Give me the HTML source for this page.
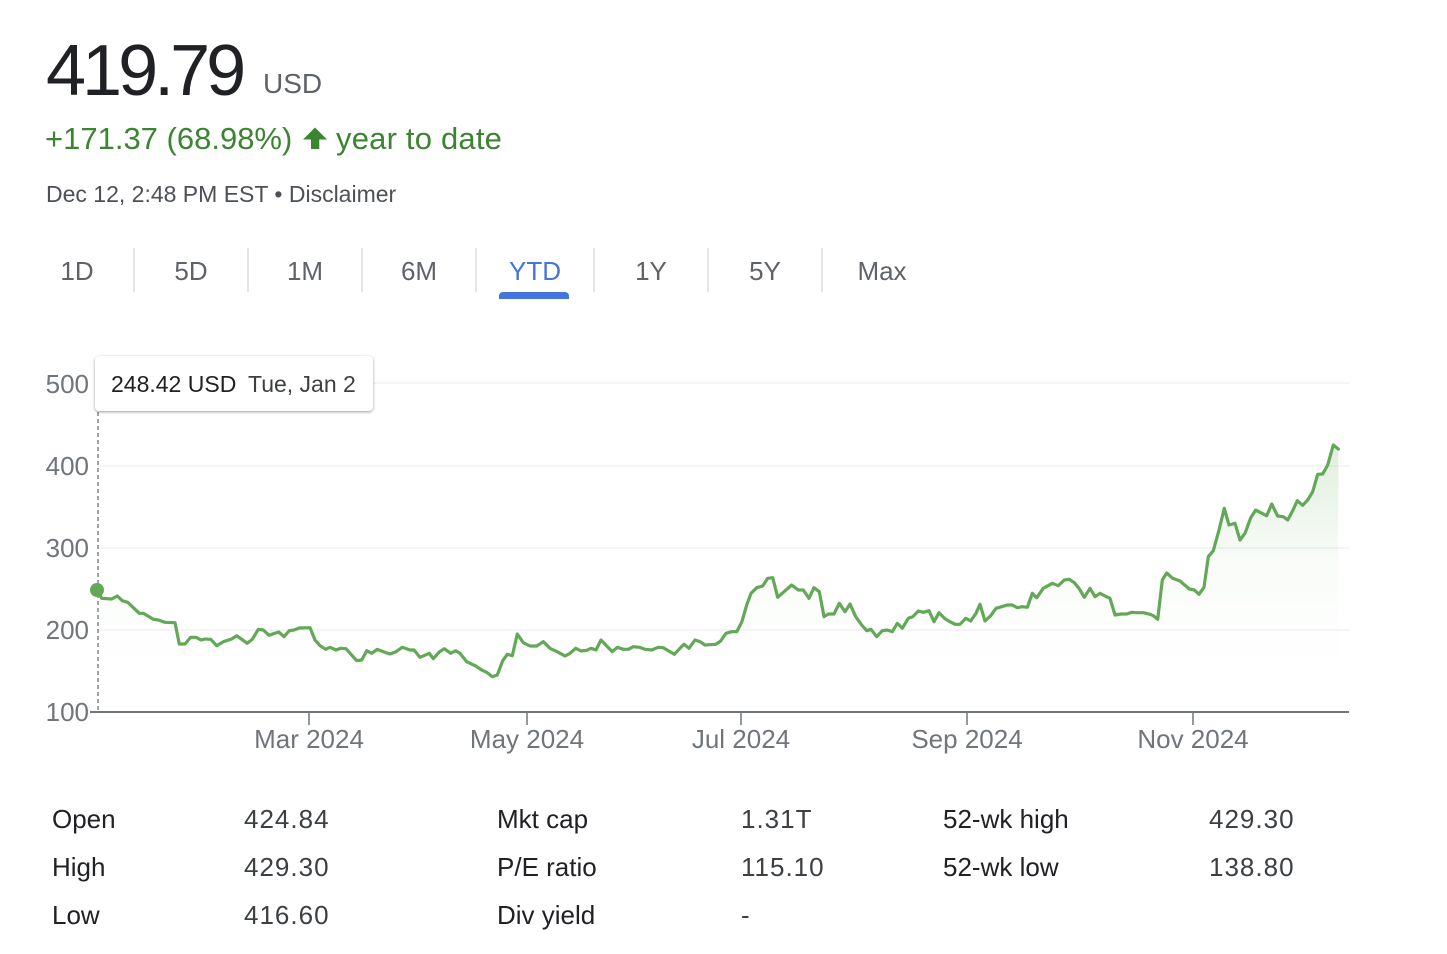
<!DOCTYPE html>
<html>
<head>
<meta charset="utf-8">
<style>
  html,body{margin:0;padding:0;background:#fff;}
  body{width:1447px;height:954px;position:relative;overflow:hidden;font-family:"Liberation Sans",Arial,sans-serif;}
  svg{position:absolute;left:0;top:0;}
  .tip{position:absolute;left:95px;top:356px;width:278px;height:55px;background:#fff;border-radius:4px;box-shadow:0 1px 3px rgba(0,0,0,0.28),0 1px 2px rgba(0,0,0,0.12);}
</style>
</head>
<body>
<svg width="1447" height="954" viewBox="0 0 1447 954" xmlns="http://www.w3.org/2000/svg" font-family="Liberation Sans, Arial, sans-serif">
  <defs>
    <linearGradient id="fillg" gradientUnits="userSpaceOnUse" x1="0" y1="440" x2="0" y2="680">
      <stop offset="0" stop-color="#5fa855" stop-opacity="0.2"/>
      <stop offset="0.5" stop-color="#5fa855" stop-opacity="0.04"/>
      <stop offset="0.8" stop-color="#5fa855" stop-opacity="0.01"/>
      <stop offset="1" stop-color="#5fa855" stop-opacity="0"/>
    </linearGradient>
  </defs>

  <!-- Header -->
  <text x="46" y="95" font-size="72" fill="#202124" letter-spacing="-4">419.79</text>
  <text x="263" y="93" font-size="28" fill="#5f6368">USD</text>
  <text x="45" y="149" font-size="31" fill="#3c8431">+171.37 (68.98%)</text>
  <polygon points="315,127.5 327,139.5 319.3,139.5 319.3,149 311,149 311,139.5 303,139.5" fill="#3c8431"/>
  <text x="336" y="149" font-size="31" fill="#3c8431" letter-spacing="0.2">year to date</text>
  <text x="46" y="202" font-size="23" fill="#4d5156">Dec 12, 2:48 PM EST • Disclaimer</text>

  <!-- Tabs -->
  <g font-size="26" fill="#5f6368" text-anchor="middle">
    <text x="77" y="280">1D</text>
    <text x="191" y="280">5D</text>
    <text x="305" y="280">1M</text>
    <text x="419" y="280">6M</text>
    <text x="535" y="280" fill="#4374e0">YTD</text>
    <text x="651" y="280">1Y</text>
    <text x="765" y="280">5Y</text>
    <text x="882" y="280">Max</text>
  </g>
  <g stroke="#dadce0" stroke-width="1.5">
    <line x1="134" y1="248" x2="134" y2="292"/>
    <line x1="248" y1="248" x2="248" y2="292"/>
    <line x1="362" y1="248" x2="362" y2="292"/>
    <line x1="476" y1="248" x2="476" y2="292"/>
    <line x1="594" y1="248" x2="594" y2="292"/>
    <line x1="708" y1="248" x2="708" y2="292"/>
    <line x1="822" y1="248" x2="822" y2="292"/>
  </g>
  <path d="M499 299 V296 a4 4 0 0 1 4 -4 H565 a4 4 0 0 1 4 4 V299 Z" fill="#4374e0"/>

  <!-- Grid -->
  <g stroke="#f1f1f1" stroke-width="1.5">
    <line x1="97" y1="383" x2="1349" y2="383"/>
    <line x1="97" y1="466" x2="1349" y2="466"/>
    <line x1="97" y1="548" x2="1349" y2="548"/>
    <line x1="97" y1="630" x2="1349" y2="630"/>
  </g>

  <!-- Y labels -->
  <g font-size="26" fill="#70757a" text-anchor="end">
    <text x="89" y="393">500</text>
    <text x="89" y="475">400</text>
    <text x="89" y="557">300</text>
    <text x="89" y="639">200</text>
    <text x="89" y="721">100</text>
  </g>

  <!-- Fill -->
  <path fill="url(#fillg)" d="M96.7,590 L101.7,598.3 111.7,599 117.3,596 122.3,600.7 127.7,602.3 139.3,613.3 143.3,613.3 153.3,619.3 158.3,620 165,622.3 175,622.7 179.3,644 185,644 190.7,637.3 196,637.3 201,640 205,639 210.7,639.3 216.7,645.7 223.3,641.7 231.7,639 236.7,635.7 247.3,643.3 252.3,639.3 258.3,629.3 263.3,630 269,635.3 278.7,632 284,636.7 289.3,630.7 294,630 299.3,628 310,627.7 315,640 320,645.7 325.7,649.3 330,647.3 336,650 340.7,648.3 346,648.7 356.7,660.7 361.7,660 366.7,650.7 371.7,653.3 377.3,649.3 384,652 390,654 396,651.7 402.3,647.3 410,650 414,650 420,657.3 429.3,653.3 433.3,658.7 439.3,652 444.3,648.7 450.7,653.3 455.7,650.7 460,653.3 466.7,661.7 475.7,666 481.7,670 486.7,672.3 492.3,676.7 497.3,675 502.7,660.7 507.3,654.3 512.3,655.7 517.3,634 523.3,642.7 530,646 536.7,646 543.3,641.7 550,648.3 558.3,652.3 565,656 570,653.3 575.7,648.3 581,651 586.7,650.3 591,648.3 596,650 601,640 606.7,646 612.3,651.7 617.3,647.3 623.3,649.3 628.3,649.3 633.3,646.7 639.3,647.3 645,649.3 651.7,650 658.3,647.3 663.3,647.7 674.3,654.3 680,648.3 684,644.3 689,648.3 695,640 700,641.7 705,645 715.7,644.3 720.7,641 726,633.3 731.7,631.7 736.7,631.7 741.7,622.3 746.7,605 751,593.3 756.7,587.7 762.7,586 767.7,578.3 772.7,577.7 777.7,597.3 784,591.7 791.7,585 798.3,590 803.3,590 809,598.3 814,587.7 819.3,591.7 824,616.7 828.3,614 834,614 839.3,603.3 845,611.7 850,604 855.7,616.7 861.7,625 866.7,630.7 871,629.3 876.7,636.7 882.3,630.7 887.3,630 892.3,631.7 897.3,623.3 902.3,628.3 908.3,618.3 912.7,616.7 918.3,611 923.3,612.3 929,610.7 934,621.7 939,612.7 945,618.7 950,621.7 955,624.3 960,624.3 965.7,618.3 970.7,621 976,613.3 980,604.3 985,621 990.7,615.7 996,608.3 1001.7,606.7 1007.3,605 1012.3,605 1017.3,607.7 1022.3,606.7 1027.3,607.3 1032.3,593.3 1036.7,597.7 1043.3,588.3 1052.3,583.3 1058.3,585.7 1064.3,580 1069.3,579.3 1074.3,582.7 1079,588.3 1084.3,597.3 1090,588.3 1095,596.7 1100,593.3 1105,596 1110,598.3 1115,615 1120.7,614 1126.7,614 1131.7,612.3 1136.7,612.7 1143.3,612.7 1150,614.3 1153.3,615.7 1157.7,619.3 1162.3,580 1166.7,573 1172.7,578.3 1180,581 1189.3,589 1194.3,590 1199,594.3 1204,587.3 1208.3,556.7 1213.3,550.7 1219,530 1224.3,508.3 1229,525 1235,523.3 1240,540 1245,533.3 1250.7,517.7 1255.7,510 1260.7,512.7 1266.7,515.7 1271.7,504 1277.7,516 1283.3,516.7 1287.7,520 1292.7,510.7 1297.3,500.7 1302.7,505.3 1307.7,500 1312.7,491.7 1317.7,474.3 1322.7,474 1327.7,465 1333.3,445 1338.3,449 L1338.3,712 L96.7,712 Z"/>

  <!-- Dashed cursor line -->
  <line x1="98" y1="412" x2="98" y2="712" stroke="#80868b" stroke-width="1.5" stroke-dasharray="4,3"/>

  <!-- Line -->
  <polyline fill="none" stroke="#62a857" stroke-width="3.2" stroke-linejoin="round" stroke-linecap="round" points="96.7,590 101.7,598.3 111.7,599 117.3,596 122.3,600.7 127.7,602.3 139.3,613.3 143.3,613.3 153.3,619.3 158.3,620 165,622.3 175,622.7 179.3,644 185,644 190.7,637.3 196,637.3 201,640 205,639 210.7,639.3 216.7,645.7 223.3,641.7 231.7,639 236.7,635.7 247.3,643.3 252.3,639.3 258.3,629.3 263.3,630 269,635.3 278.7,632 284,636.7 289.3,630.7 294,630 299.3,628 310,627.7 315,640 320,645.7 325.7,649.3 330,647.3 336,650 340.7,648.3 346,648.7 356.7,660.7 361.7,660 366.7,650.7 371.7,653.3 377.3,649.3 384,652 390,654 396,651.7 402.3,647.3 410,650 414,650 420,657.3 429.3,653.3 433.3,658.7 439.3,652 444.3,648.7 450.7,653.3 455.7,650.7 460,653.3 466.7,661.7 475.7,666 481.7,670 486.7,672.3 492.3,676.7 497.3,675 502.7,660.7 507.3,654.3 512.3,655.7 517.3,634 523.3,642.7 530,646 536.7,646 543.3,641.7 550,648.3 558.3,652.3 565,656 570,653.3 575.7,648.3 581,651 586.7,650.3 591,648.3 596,650 601,640 606.7,646 612.3,651.7 617.3,647.3 623.3,649.3 628.3,649.3 633.3,646.7 639.3,647.3 645,649.3 651.7,650 658.3,647.3 663.3,647.7 674.3,654.3 680,648.3 684,644.3 689,648.3 695,640 700,641.7 705,645 715.7,644.3 720.7,641 726,633.3 731.7,631.7 736.7,631.7 741.7,622.3 746.7,605 751,593.3 756.7,587.7 762.7,586 767.7,578.3 772.7,577.7 777.7,597.3 784,591.7 791.7,585 798.3,590 803.3,590 809,598.3 814,587.7 819.3,591.7 824,616.7 828.3,614 834,614 839.3,603.3 845,611.7 850,604 855.7,616.7 861.7,625 866.7,630.7 871,629.3 876.7,636.7 882.3,630.7 887.3,630 892.3,631.7 897.3,623.3 902.3,628.3 908.3,618.3 912.7,616.7 918.3,611 923.3,612.3 929,610.7 934,621.7 939,612.7 945,618.7 950,621.7 955,624.3 960,624.3 965.7,618.3 970.7,621 976,613.3 980,604.3 985,621 990.7,615.7 996,608.3 1001.7,606.7 1007.3,605 1012.3,605 1017.3,607.7 1022.3,606.7 1027.3,607.3 1032.3,593.3 1036.7,597.7 1043.3,588.3 1052.3,583.3 1058.3,585.7 1064.3,580 1069.3,579.3 1074.3,582.7 1079,588.3 1084.3,597.3 1090,588.3 1095,596.7 1100,593.3 1105,596 1110,598.3 1115,615 1120.7,614 1126.7,614 1131.7,612.3 1136.7,612.7 1143.3,612.7 1150,614.3 1153.3,615.7 1157.7,619.3 1162.3,580 1166.7,573 1172.7,578.3 1180,581 1189.3,589 1194.3,590 1199,594.3 1204,587.3 1208.3,556.7 1213.3,550.7 1219,530 1224.3,508.3 1229,525 1235,523.3 1240,540 1245,533.3 1250.7,517.7 1255.7,510 1260.7,512.7 1266.7,515.7 1271.7,504 1277.7,516 1283.3,516.7 1287.7,520 1292.7,510.7 1297.3,500.7 1302.7,505.3 1307.7,500 1312.7,491.7 1317.7,474.3 1322.7,474 1327.7,465 1333.3,445 1338.3,449"/>
  <circle cx="97" cy="590" r="7" fill="#62a857"/>

  <!-- X axis -->
  <line x1="90" y1="712" x2="1349" y2="712" stroke="#70757a" stroke-width="2"/>
  <g stroke="#70757a" stroke-width="1.5">
    <line x1="309" y1="712" x2="309" y2="725"/>
    <line x1="527" y1="712" x2="527" y2="725"/>
    <line x1="741" y1="712" x2="741" y2="725"/>
    <line x1="967" y1="712" x2="967" y2="725"/>
    <line x1="1193" y1="712" x2="1193" y2="725"/>
  </g>
  <g font-size="26" fill="#70757a" text-anchor="middle">
    <text x="309" y="748">Mar 2024</text>
    <text x="527" y="748">May 2024</text>
    <text x="741" y="748">Jul 2024</text>
    <text x="967" y="748">Sep 2024</text>
    <text x="1193" y="748">Nov 2024</text>
  </g>

  <!-- Stats -->
  <g font-size="26" fill="#202124">
    <text x="52" y="828">Open</text>
    <text x="52" y="876">High</text>
    <text x="52" y="924">Low</text>
    <text x="497" y="828">Mkt cap</text>
    <text x="497" y="876">P/E ratio</text>
    <text x="497" y="924">Div yield</text>
    <text x="943" y="828">52-wk high</text>
    <text x="943" y="876">52-wk low</text>
  </g>
  <g font-size="26" fill="#3c4043" letter-spacing="1">
    <text x="244" y="828">424.84</text>
    <text x="244" y="876">429.30</text>
    <text x="244" y="924">416.60</text>
    <text x="741" y="828">1.31T</text>
    <text x="741" y="876">115.10</text>
    <text x="741" y="924">-</text>
    <text x="1209" y="828">429.30</text>
    <text x="1209" y="876">138.80</text>
  </g>
</svg>

<div class="tip">
  <svg width="278" height="55" style="position:absolute;left:0;top:0;" font-family="Liberation Sans, Arial, sans-serif">
    <text x="16" y="36" font-size="23" fill="#202124">248.42 USD</text>
    <text x="153" y="36" font-size="23" fill="#3c4043">Tue, Jan 2</text>
  </svg>
</div>
</body>
</html>
